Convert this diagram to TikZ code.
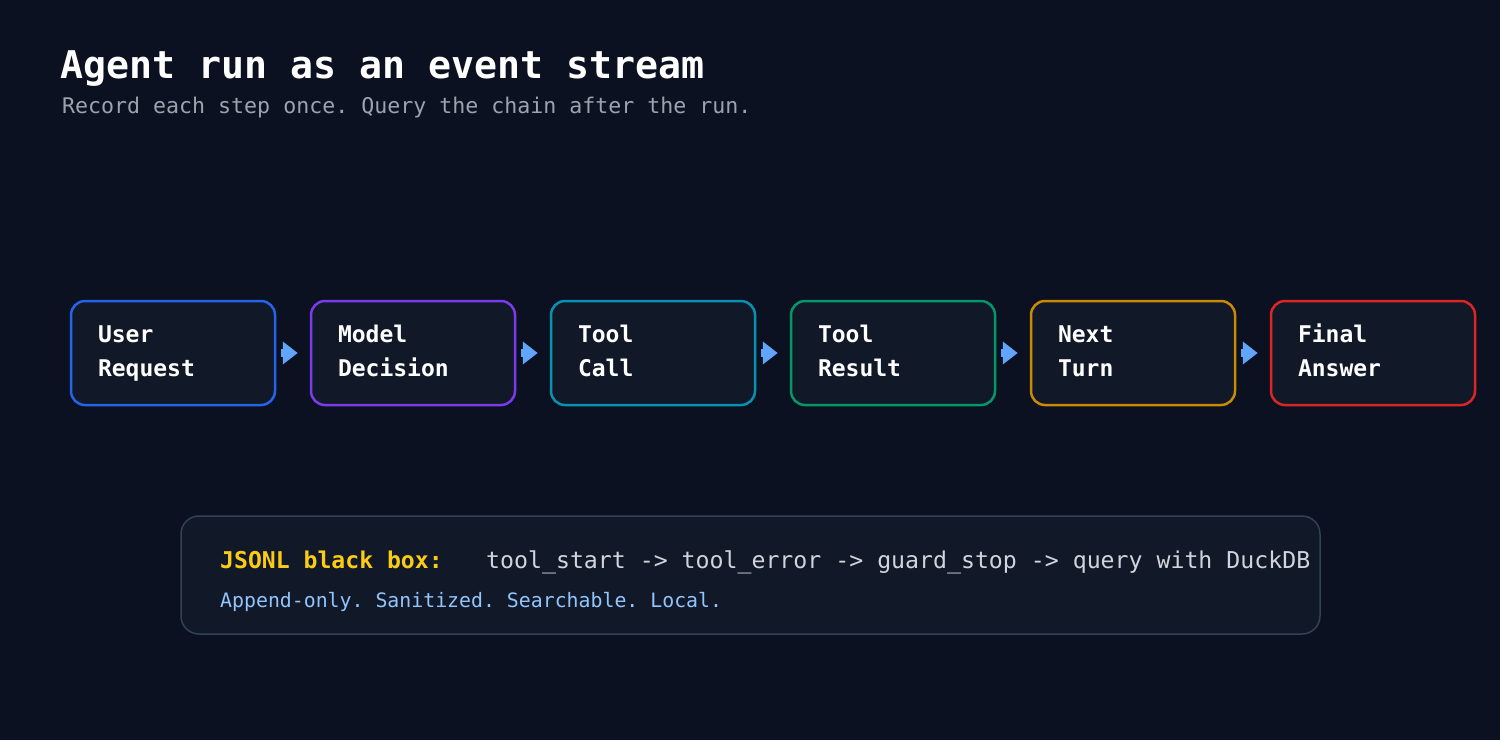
\documentclass[tikz,border=0pt]{standalone}
\usepackage{fontspec}
\setmonofont{DejaVu Sans Mono}
\usetikzlibrary{arrows.meta}
\definecolor{bg}{HTML}{0B1120}
\definecolor{panel}{HTML}{111827}
\definecolor{cBlue}{HTML}{2563EB}
\definecolor{cPurple}{HTML}{7C3AED}
\definecolor{cCyan}{HTML}{0891B2}
\definecolor{cGreen}{HTML}{059669}
\definecolor{cAmber}{HTML}{CA8A04}
\definecolor{cRed}{HTML}{DC2626}
\definecolor{arrowc}{HTML}{60A5FA}
\definecolor{subc}{HTML}{9CA3AF}
\definecolor{logedge}{HTML}{334155}
\definecolor{yel}{HTML}{FACC15}
\definecolor{lightblue}{HTML}{93C5FD}
\definecolor{codec}{HTML}{D1D5DB}
\tikzset{
  stepbox/.style={draw=#1, line width=2.5pt, fill=panel, rounded corners=14pt,
    minimum width=204pt, minimum height=104pt, inner sep=0pt,
    text width=150pt, align=left, text=white,
    font=\ttfamily\bfseries\fontsize{23}{34}\selectfont},
  flow/.style={draw=arrowc, line width=8pt, shorten <=5pt, shorten >=12pt,
    -{Triangle[length=15pt,width=22pt]}},
  txt/.style={anchor=base west, inner sep=0pt},
}
\newcommand{\twoline}[2]{\strut #1\\\strut #2}
\begin{document}
\begin{tikzpicture}[x=1pt,y=-1pt]
\fill[bg] (0,0) rectangle (1500,740);
\useasboundingbox (0,0) rectangle (1500,740);
\node[txt, text=white, font=\ttfamily\bfseries\fontsize{38.2}{40}\selectfont] (title) at (60,78) {Agent run as an event stream};
\node[txt, text=subc, font=\ttfamily\fontsize{21.6}{24}\selectfont] (sub) at (62,113) {Record each step once. Query the chain after the run.};

\node[stepbox=cBlue] (b1) at (173,353) {\twoline{User}{Request}};
\node[stepbox=cPurple] (b2) at (413,353) {\twoline{Model}{Decision}};
\node[stepbox=cCyan] (b3) at (653,353) {\twoline{Tool}{Call}};
\node[stepbox=cGreen] (b4) at (893,353) {\twoline{Tool}{Result}};
\node[stepbox=cAmber] (b5) at (1133,353) {\twoline{Next}{Turn}};
\node[stepbox=cRed] (b6) at (1373,353) {\twoline{Final}{Answer}};
\foreach \a/\b in {b1/b2,b2/b3,b3/b4,b4/b5,b5/b6}
  \draw[flow] (\a.east) -- (\b.west);

\node[draw=logedge, line width=1.5pt, fill=panel, rounded corners=18pt,
  minimum width=1139pt, minimum height=118pt, inner sep=0pt] (log) at (750.5,575) {};
\node[txt, text=yel, font=\ttfamily\bfseries\fontsize{23.1}{26}\selectfont] (lab) at (220,568) {JSONL black box:};
\node[txt, text=codec, font=\ttfamily\fontsize{23.2}{26}\selectfont] (chain) at (486,568) {tool\_start -> tool\_error -> guard\_stop -> query with DuckDB};
\node[txt, text=lightblue, font=\ttfamily\fontsize{19.85}{22}\selectfont] (note) at (220,607) {Append-only. Sanitized. Searchable. Local.};
\end{tikzpicture}
\end{document}
